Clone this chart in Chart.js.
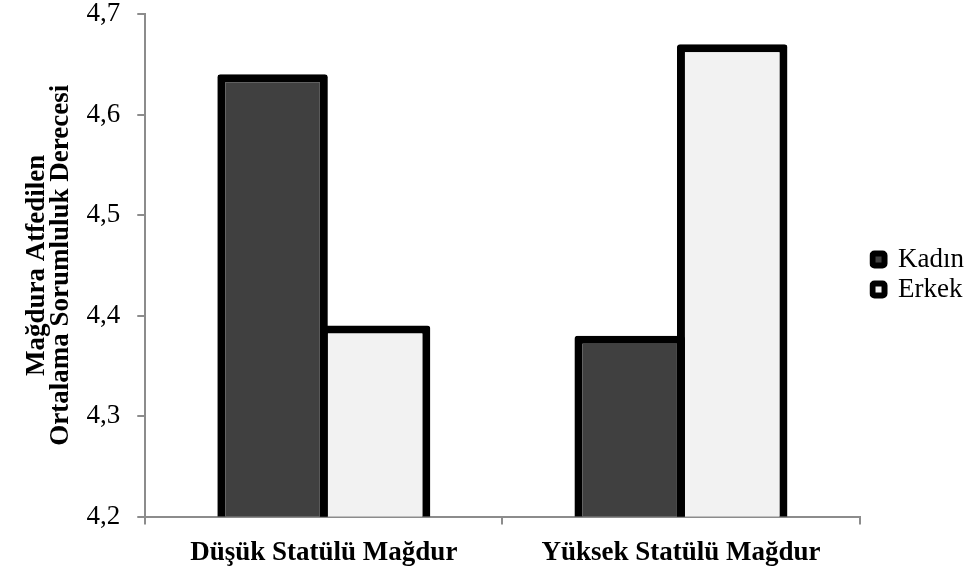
<html>
<head>
<meta charset="UTF-8" />
<script src="https://cdn.jsdelivr.net/npm/chart.js"></script>
<style>
  body { margin: 0; padding: 0; background: #ffffff; }
  #wrap { width: 974px; height: 578px; }
</style>
</head>
<body>
<div id="wrap"><canvas id="chart"></canvas></div>
<script>
var categories = ["Düşük Statülü Mağdur", "Yüksek Statülü Mağdur"];
var kadinValues = [4.64, 4.38];
var erkekValues = [4.39, 4.67];
var yTicks = [4.2, 4.3, 4.4, 4.5, 4.6, 4.7];

var serif = "'Liberation Serif', 'Times New Roman', serif";

// bars slightly wider than their slot so the two black borders overlap into one line
const barStyle = {
    borderColor: "#000000",
    borderWidth: 8,
    borderSkipped: false,
    borderRadius: 3,
    categoryPercentage: 0.574,
    barPercentage: 1.078,
};

const chartData = {
    labels: categories,
    datasets: [
        { ...barStyle, label: "Kadın", data: kadinValues, backgroundColor: "#404040" },
        { ...barStyle, label: "Erkek", data: erkekValues, backgroundColor: "#f2f2f2" },
    ],
};

// nudge the legend a little right/up, chart.js has no offset option for it
const shiftLegend = {
    id: "shiftLegend",
    afterLayout: function (chart) {
        chart.legend.left += 10;
        chart.legend.right += 10;
        chart.legend.top -= 23;
        chart.legend.bottom -= 23;
    },
};

new Chart(document.getElementById("chart"), {
    type: "bar",
    data: chartData,
    plugins: [shiftLegend],
    options: {
        responsive: true,
        maintainAspectRatio: false,
        animation: false,
        layout: { padding: { top: 14, right: 10, left: 25, bottom: -3 } },
        scales: {
            x: {
                grid: {
                    drawOnChartArea: false,
                    color: "#8c8c8c",
                    tickLength: 8,
                    lineWidth: 2,
                },
                border: { color: "#8c8c8c", width: 2 },
                ticks: {
                    color: "#000000",
                    padding: 12,
                    font: { family: serif, size: 27, weight: "bold" },
                },
            },
            y: {
                min: 4.2,
                max: 4.7,
                afterBuildTicks: function (axis) {
                    axis.ticks = yTicks.map(function (v) { return { value: v }; });
                },
                afterFit: function (axis) {
                    // let the top label hang over the edge like the original
                    axis.paddingTop = 0;
                    axis.paddingBottom = 0;
                },
                grid: {
                    drawOnChartArea: false,
                    color: "#8c8c8c",
                    tickLength: 8,
                    lineWidth: 2,
                },
                border: { color: "#8c8c8c", width: 2 },
                ticks: {
                    color: "#000000",
                    padding: 17,
                    font: { family: serif, size: 27 },
                    callback: function (v) { return v.toFixed(1).replace(".", ","); },
                },
                title: {
                    display: true,
                    text: ["Mağdura Atfedilen", "Ortalama Sorumluluk Derecesi"],
                    color: "#000000",
                    font: { family: serif, size: 27, weight: "bold", lineHeight: 0.88 },
                    padding: { top: 0, bottom: -3 },
                },
            },
        },
        plugins: {
            legend: {
                position: "right",
                labels: {
                    color: "#000000",
                    boxWidth: 12,
                    boxHeight: 12,
                    padding: 3,
                    font: { family: serif, size: 27 },
                    generateLabels: function (chart) {
                        return chart.data.datasets.map(function (ds, i) {
                            return {
                                text: ds.label,
                                fillStyle: ds.backgroundColor,
                                strokeStyle: "#000000",
                                lineWidth: 6,
                                borderRadius: 2,
                                datasetIndex: i,
                                fontColor: "#000000",
                            };
                        });
                    },
                },
            },
            tooltip: { enabled: false },
        },
    },
});
</script>
</body>
</html>
